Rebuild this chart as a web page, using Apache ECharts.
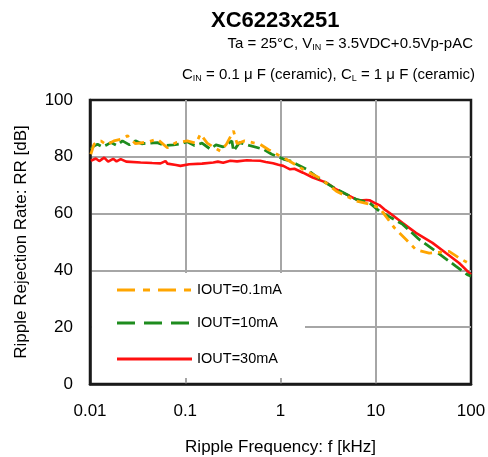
<!DOCTYPE html>
<html><head><meta charset="utf-8">
<script src="https://cdn.jsdelivr.net/npm/echarts@6/dist/echarts.min.js"></script>
<style>html,body{margin:0;padding:0;background:#fff}#c{width:488px;height:457px}</style>
</head><body><div id="c"></div>
<script>
var xTicks = [0.01, 0.1, 1, 10, 100];
var yTicks = [0, 20, 40, 60, 80, 100];
var seriesNames = ['IOUT=0.1mA', 'IOUT=10mA', 'IOUT=30mA'];
var iout01 = [[0.0102,80.9],[0.011,84.4],[0.013,85.6],[0.015,84.2],[0.0178,85.6],[0.0211,86.2],[0.0248,87.4],[0.03,84.6],[0.04,85.2],[0.0509,86.2],[0.0648,83.2],[0.08,85.0],[0.1048,85.6],[0.13,84.8],[0.1443,88.0],[0.17,84.8],[0.2334,82.0],[0.27,84.4],[0.321,89.1],[0.35,84.6],[0.42,85.6],[0.611,84.4],[0.75,82.5],[0.988,80.3],[1.2,78.8],[1.72,75.6],[2.6,72.5],[3.86,67.9],[6.25,64.4],[8.6,63.3],[10.9,62.1],[15.7,55],[20.8,50.9],[26.4,47.3],[36.4,46.1],[58.9,46.7],[75,44.4],[100,42]];
var iout10 = [[0.0102,82.7],[0.011,83.8],[0.012,84.4],[0.0135,83.5],[0.015,84.2],[0.0166,85.0],[0.019,84.0],[0.0219,85.6],[0.026,84.2],[0.03,85.6],[0.035,84.6],[0.042,84.8],[0.0509,85.0],[0.06,84.0],[0.075,84.2],[0.09,84.6],[0.1048,85.3],[0.125,84.0],[0.15,84.8],[0.1835,82.7],[0.21,84.2],[0.25,83.5],[0.309,85.6],[0.321,82.0],[0.37,85.0],[0.48,83.9],[0.656,82.7],[0.809,80.9],[0.95,80.0],[1.07,79.2],[1.256,78.6],[1.476,77.4],[1.88,75.6],[2.59,72.1],[3.86,68.6],[6.25,65],[8.6,63.8],[10.9,60.9],[19.2,56.2],[28.6,50.9],[42.8,46.7],[69.2,41.5],[91.5,38.5],[100,38]];
var iout30 = [[0.0102,78.6],[0.0115,79.4],[0.0125,78.5],[0.0141,79.7],[0.0155,78.3],[0.0175,79.3],[0.019,78.4],[0.021,79.2],[0.024,78.3],[0.034,78.0],[0.045,77.8],[0.055,77.7],[0.062,78.5],[0.065,77.6],[0.08,77.1],[0.089,76.8],[0.11,77.4],[0.15,77.6],[0.197,78.0],[0.22,78.3],[0.25,77.9],[0.297,78.6],[0.35,78.4],[0.444,78.8],[0.5,78.7],[0.611,78.6],[0.7,78.2],[0.835,77.7],[0.95,77.2],[1.07,76.8],[1.16,76.2],[1.26,75.6],[1.4,75.8],[1.72,74.4],[2.18,72.7],[3.03,70.9],[3.86,68.5],[4.5,67.4],[6.25,65],[6.76,64.6],[7.95,64.8],[8.6,64.7],[9.7,63.8],[10.9,63.0],[12.3,61.5],[13.9,60.3],[19.2,56.7],[26.4,53.2],[39.4,49.7],[54.5,46.1],[75,42.6],[100,38.5]];
var colors = ['#FFA500', '#1E8C1E', '#FF1010'];
var dashes = [[12,6,4,6], [12,5], null];
var legendDashes = [[18,8,7,8], [18,9], null];
var FONT = 'Liberation Sans, Arial, sans-serif';

var chart = echarts.init(document.getElementById('c'), null, {renderer: 'canvas'});
var dataSets = [iout01, iout10, iout30];
var series = dataSets.map(function (d, i) {
  return {
    name: seriesNames[i], type: 'line', data: d, showSymbol: false, symbol: 'none',
    lineStyle: {color: colors[i], width: i === 2 ? 2.6 : 2.8, type: dashes[i] || 'solid'},
    z: 3 - i + 2, animation: false
  };
});
var legendY = [290, 323, 359];
var subRich = {s: {fontSize: 9, fontFamily: FONT, verticalAlign: 'bottom', padding: [8, 0, 0, 0]}};
var graphics = [
  {type: 'rect', left: 92, top: 273, shape: {width: 213, height: 105}, style: {fill: '#fff'}, z: 50},
  {type: 'text', left: 211, top: 10, style: {text: 'XC6223x251', fill: '#000', font: 'bold 22px ' + FONT}, z: 60},
  {type: 'text', right: 15, top: 36, style: {text: 'Ta = 25°C, V{s|IN} = 3.5VDC+0.5Vp-pAC', fill: '#000', fontSize: 15, fontFamily: FONT, rich: subRich}, z: 60},
  {type: 'text', right: 13, top: 67, style: {text: 'C{s|IN} = 0.1 μ F (ceramic), C{s|L} = 1 μ F (ceramic)', fill: '#000', fontSize: 15, fontFamily: FONT, rich: subRich}, z: 60}
];
seriesNames.forEach(function (n, i) {
  graphics.push({type: 'line', shape: {x1: 117, y1: legendY[i], x2: 192, y2: legendY[i]},
    style: {stroke: colors[i], lineWidth: 3, lineDash: legendDashes[i]}, z: 60});
  graphics.push({type: 'text', left: 197, top: legendY[i] - 8, style: {text: n, fill: '#000', font: '14.5px ' + FONT}, z: 60});
});

chart.setOption({
  animation: false,
  grid: {left: 90, right: 17, top: 100, bottom: 73, show: true, outerBoundsMode: 'none', containLabel: false,
    borderColor: '#1a1a1a', borderWidth: 2.5, backgroundColor: 'transparent'},
  xAxis: {
    type: 'log', logBase: 10, min: xTicks[0], max: xTicks[xTicks.length - 1],
    name: 'Ripple Frequency: f [kHz]', nameLocation: 'middle', nameGap: 55,
    nameTextStyle: {fontSize: 17, fontFamily: FONT, color: '#000'},
    axisLine: {show: true, lineStyle: {color: '#1a1a1a', width: 2.5}},
    axisTick: {show: false}, minorTick: {show: false},
    axisLabel: {fontSize: 17, fontFamily: FONT, color: '#000', margin: 19,
      formatter: function (v) { var r = xTicks.filter(function (t) { return Math.abs(t - v) / t < 1e-6; }); return r.length ? String(r[0]) : ''; }},
    splitLine: {show: true, showMinLine: false, showMaxLine: false, lineStyle: {color: '#A6A6A6', width: 2}}
  },
  yAxis: {
    type: 'value', min: yTicks[0], max: yTicks[yTicks.length - 1], interval: 20,
    name: 'Ripple Rejection Rate: RR [dB]', nameLocation: 'middle', nameGap: 60, nameRotate: 90,
    nameTextStyle: {fontSize: 17, fontFamily: FONT, color: '#000'},
    axisLine: {show: true, lineStyle: {color: '#1a1a1a', width: 2.5}},
    axisTick: {show: false},
    axisLabel: {fontSize: 17, fontFamily: FONT, color: '#000', margin: 17},
    splitLine: {show: true, showMinLine: false, showMaxLine: false, lineStyle: {color: '#A6A6A6', width: 2}}
  },
  series: series,
  graphic: graphics
});
</script></body></html>
